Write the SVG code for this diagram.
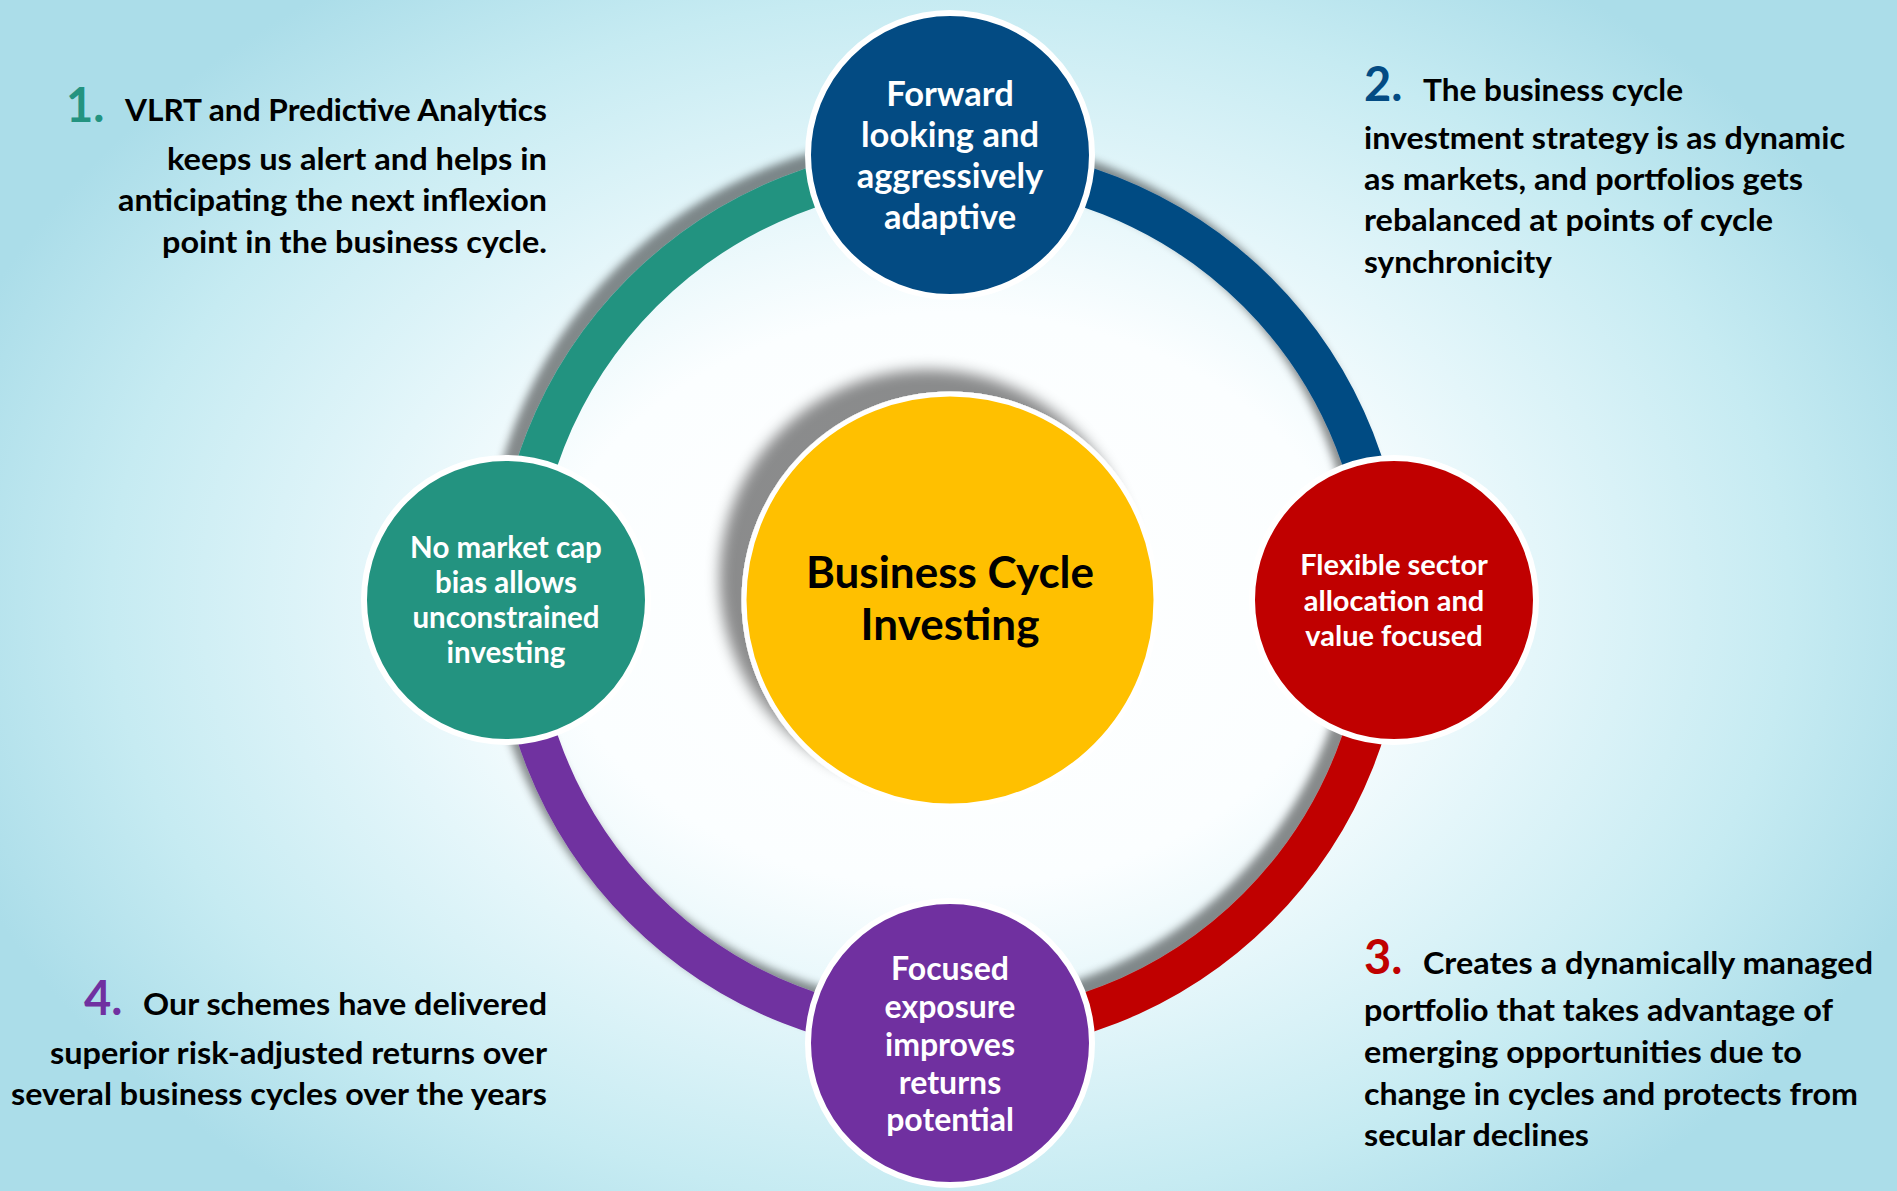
<svg xmlns="http://www.w3.org/2000/svg" width="1897" height="1191" viewBox="0 0 1897 1191">
  <defs>
    <radialGradient id="bg" cx="950" cy="600" r="1050" gradientUnits="userSpaceOnUse" gradientTransform="translate(950 600) scale(1 0.72) translate(-950 -600)">
      <stop offset="0" stop-color="#ffffff"/>
      <stop offset="0.38" stop-color="#fbfeff"/>
      <stop offset="0.56" stop-color="#e4f6fa"/>
      <stop offset="0.8" stop-color="#c6ebf2"/>
      <stop offset="1" stop-color="#abdde9"/>
    </radialGradient>
    <filter id="shRing" x="-20%" y="-20%" width="140%" height="140%">
      <feDropShadow dx="-11" dy="-11" stdDeviation="4" flood-color="#000" flood-opacity="0.45"/>
    </filter>
    <filter id="shCenter" x="-30%" y="-30%" width="160%" height="160%">
      <feDropShadow dx="-22" dy="-22" stdDeviation="7" flood-color="#000" flood-opacity="0.45"/>
    </filter>
  </defs>
  <style>
    .arc { fill: none; stroke-width: 40; }
    .node { stroke: #ffffff; stroke-width: 6; }
    .nt { font-family: Lato, "Liberation Sans", sans-serif; font-weight: bold; fill: #ffffff; text-anchor: middle; }
    .ct { font-family: Lato, "Liberation Sans", sans-serif; font-weight: bold; fill: #000000; text-anchor: middle; font-size: 44px; }
    .st { font-family: Lato, "Liberation Sans", sans-serif; font-weight: bold; fill: #000000; font-size: 30.5px; }
    .num { font-family: Lato, "Liberation Sans", sans-serif; font-weight: bold; font-size: 47px; }
    .r { text-anchor: end; }
  </style>

  <rect x="0" y="0" width="1897" height="1191" fill="url(#bg)"/>

  <g id="connectors" filter="url(#shRing)">
    <path class="arc" stroke="#239380" d="M 950 165 A 435 435 0 0 0 515 600"/>
    <path class="arc" stroke="#034b83" d="M 950 165 A 435 435 0 0 1 1385 600"/>
    <path class="arc" stroke="#c00000" d="M 1385 600 A 435 435 0 0 1 950 1035"/>
    <path class="arc" stroke="#7030a0" d="M 950 1035 A 435 435 0 0 1 515 600"/>
  </g>

  <g id="center">
    <circle cx="950" cy="600" r="206" fill="#ffc000" stroke="#ffffff" stroke-width="5" filter="url(#shCenter)"/>
    <text class="ct" x="950" y="588">Business Cycle</text>
    <text class="ct" x="950" y="640">Investing</text>
  </g>

  <g id="node-top">
    <circle class="node" cx="950" cy="155" r="142" fill="#034b83"/>
    <text class="nt" font-size="34.5" x="950" y="106">Forward</text>
    <text class="nt" font-size="34.5" x="950" y="147">looking and</text>
    <text class="nt" font-size="34.5" x="950" y="188">aggressively</text>
    <text class="nt" font-size="34.5" x="950" y="229">adaptive</text>
  </g>

  <g id="node-left">
    <circle class="node" cx="506" cy="600" r="142" fill="#239380"/>
    <text class="nt" font-size="29.5" x="506" y="558">No market cap</text>
    <text class="nt" font-size="29.5" x="506" y="593">bias allows</text>
    <text class="nt" font-size="29.5" x="506" y="628">unconstrained</text>
    <text class="nt" font-size="29.5" x="506" y="663">investing</text>
  </g>

  <g id="node-right">
    <circle class="node" cx="1394" cy="600" r="142" fill="#c00000"/>
    <text class="nt" font-size="29" x="1394" y="575">Flexible sector</text>
    <text class="nt" font-size="29" x="1394" y="611">allocation and</text>
    <text class="nt" font-size="29" x="1394" y="646">value focused</text>
  </g>

  <g id="node-bottom">
    <circle class="node" cx="950" cy="1043" r="142" fill="#7030a0"/>
    <text class="nt" font-size="32" x="950" y="980">Focused</text>
    <text class="nt" font-size="32" x="950" y="1018">exposure</text>
    <text class="nt" font-size="32" x="950" y="1056">improves</text>
    <text class="nt" font-size="32" x="950" y="1094">returns</text>
    <text class="nt" font-size="32" x="950" y="1131">potential</text>
  </g>

  <g id="note-1">
    <text class="num" x="66" y="122" fill="#239380">1.</text>
    <text class="st r" x="547" y="121" textLength="422" lengthAdjust="spacingAndGlyphs">VLRT and Predictive Analytics</text>
    <text class="st r" x="547" y="170" textLength="380" lengthAdjust="spacingAndGlyphs">keeps us alert and helps in</text>
    <text class="st r" x="547" y="211" textLength="429" lengthAdjust="spacingAndGlyphs">anticipating the next inflexion</text>
    <text class="st r" x="547" y="253" textLength="385" lengthAdjust="spacingAndGlyphs">point in the business cycle.</text>
  </g>

  <g id="note-2">
    <text class="num" x="1364" y="101" fill="#034b83">2.</text>
    <text class="st" x="1423" y="101" textLength="260" lengthAdjust="spacingAndGlyphs">The business cycle</text>
    <text class="st" x="1364" y="149" textLength="481" lengthAdjust="spacingAndGlyphs">investment strategy is as dynamic</text>
    <text class="st" x="1364" y="190" textLength="439" lengthAdjust="spacingAndGlyphs">as markets, and portfolios gets</text>
    <text class="st" x="1364" y="231" textLength="409" lengthAdjust="spacingAndGlyphs">rebalanced at points of cycle</text>
    <text class="st" x="1364" y="273" textLength="188" lengthAdjust="spacingAndGlyphs">synchronicity</text>
  </g>

  <g id="note-3">
    <text class="num" x="1364" y="974" fill="#c00000">3.</text>
    <text class="st" x="1423" y="974" textLength="450" lengthAdjust="spacingAndGlyphs">Creates a dynamically managed</text>
    <text class="st" x="1364" y="1021" textLength="469" lengthAdjust="spacingAndGlyphs">portfolio that takes advantage of</text>
    <text class="st" x="1364" y="1063" textLength="438" lengthAdjust="spacingAndGlyphs">emerging opportunities due to</text>
    <text class="st" x="1364" y="1105" textLength="494" lengthAdjust="spacingAndGlyphs">change in cycles and protects from</text>
    <text class="st" x="1364" y="1146" textLength="225" lengthAdjust="spacingAndGlyphs">secular declines</text>
  </g>

  <g id="note-4">
    <text class="num" x="84" y="1015" fill="#7030a0">4.</text>
    <text class="st r" x="547" y="1015" textLength="404" lengthAdjust="spacingAndGlyphs">Our schemes have delivered</text>
    <text class="st r" x="547" y="1064" textLength="497" lengthAdjust="spacingAndGlyphs">superior risk-adjusted returns over</text>
    <text class="st r" x="547" y="1105" textLength="536" lengthAdjust="spacingAndGlyphs">several business cycles over the years</text>
  </g>
</svg>
